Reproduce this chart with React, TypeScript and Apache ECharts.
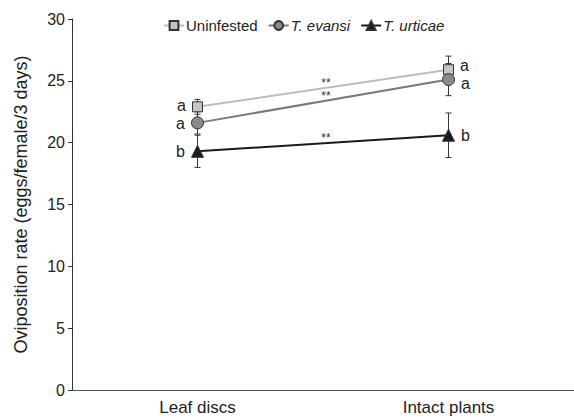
import React, { useEffect, useRef } from "react";
import * as echarts from "echarts";

const categories = ["Leaf discs", "Intact plants"];
const seriesNames = ["Uninfested", "T. evansi", "T. urticae"];
const uninfested = [22.9, 25.9];
const evansi = [21.6, 25.1];
const urticae = [19.3, 20.6];
const uninfestedErr = [0.6, 1.1];
const evansiErr = [0.9, 1.3];
const urticaeErr = [1.3, 1.8];
const uninfestedLetters = ["a", "a"];
const evansiLetters = ["a", "a"];
const urticaeLetters = ["b", "b"];
const signif = ["**", "**", "**"];
const yTicks = [0, 5, 10, 15, 20, 25, 30];

const FONT = "Liberation Sans, Arial, sans-serif";

export default function App() {
  const ref = useRef<HTMLDivElement>(null);
  useEffect(() => {
    if (!ref.current) return;
    const chart = echarts.init(ref.current, undefined, { renderer: "svg" });
    const values = [uninfested, evansi, urticae];
    const errs = [uninfestedErr, evansiErr, urticaeErr];
    const letters = [uninfestedLetters, evansiLetters, urticaeLetters];
    const lineColors = ["#bdbdbd", "#7a7a7a", "#1a1a1a"];
    const fillColors = ["#c4c4c4", "#8a8a8a", "#1a1a1a"];
    const symbols = ["rect", "circle", "triangle"];
    const sizes = [10, 12, 12];
    const leftOffsets = [[0, -1], [0, 1], [0, 0]];
    const rightOffsets = [[0, -4], [0, 4], [0, 0]];

    const lineSeries = values.map((vals, si) => ({
      type: "line",
      name: seriesNames[si],
      z: 4,
      symbol: symbols[si],
      symbolSize: sizes[si],
      lineStyle: { color: lineColors[si], width: 2 },
      itemStyle: { color: fillColors[si], borderColor: "#333", borderWidth: 1 },
      data: vals.map((v, i) => ({
        value: v,
        label: {
          show: true,
          position: i === 0 ? "left" : "right",
          distance: 6,
          offset: i === 0 ? leftOffsets[si] : rightOffsets[si],
          formatter: letters[si][i],
          fontSize: 16,
          lineHeight: 13,
          color: "#222",
          fontFamily: FONT,
        },
      })),
    }));

    const errData: number[][] = [];
    values.forEach((vals, si) =>
      vals.forEach((v, i) => errData.push([i, v - errs[si][i], v + errs[si][i]]))
    );

    const errSeries = {
      type: "custom",
      z: 2,
      silent: true,
      data: errData,
      renderItem: (params: any, api: any) => {
        const x = api.value(0);
        const lo = api.coord([x, api.value(1)]);
        const hi = api.coord([x, api.value(2)]);
        const cap = 3;
        const st = { stroke: "#333", lineWidth: 1 };
        return {
          type: "group",
          children: [
            { type: "line", shape: { x1: lo[0], y1: lo[1], x2: hi[0], y2: hi[1] }, style: st },
            { type: "line", shape: { x1: lo[0] - cap, y1: lo[1], x2: lo[0] + cap, y2: lo[1] }, style: st },
            { type: "line", shape: { x1: hi[0] - cap, y1: hi[1], x2: hi[0] + cap, y2: hi[1] }, style: st },
          ],
        };
      },
    };

    const sigSeries = {
      type: "custom",
      z: 5,
      silent: true,
      data: values.map((vals, si) => [vals[0], vals[1], si]),
      renderItem: (params: any, api: any) => {
        const a = api.coord([0, api.value(0)]);
        const b = api.coord([1, api.value(1)]);
        const si = api.value(2);
        return {
          type: "text",
          style: {
            x: (a[0] + b[0]) / 2 + 3,
            y: (a[1] + b[1]) / 2 - 1,
            text: signif[si],
            align: "center",
            verticalAlign: "bottom",
            fontSize: 12,
            lineHeight: 8,
            fontFamily: FONT,
            fill: "#333",
          },
        };
      },
    };

    chart.setOption({
      animation: false,
      textStyle: { fontFamily: FONT },
      grid: { left: 72, right: 0, top: 19, bottom: 28, containLabel: false },
      legend: {
        top: 13,
        left: 158,
        itemGap: 10,
        itemWidth: 20,
        itemHeight: 11,
        data: seriesNames,
        formatter: (n: string) => (n === "Uninfested" ? n : `{i|${n}}`),
        textStyle: {
          fontSize: 15,
          color: "#222",
          fontFamily: FONT,
          padding: [0, 0, 0, -3],
          rich: { i: { fontStyle: "italic", fontSize: 15, color: "#222", fontFamily: FONT } },
        },
      },
      xAxis: {
        type: "category",
        data: categories,
        boundaryGap: true,
        axisLine: { lineStyle: { color: "#555", width: 1 } },
        axisTick: { show: false },
        axisLabel: { fontSize: 17, color: "#222", margin: 9, fontFamily: FONT },
      },
      yAxis: {
        type: "value",
        min: yTicks[0],
        max: yTicks[yTicks.length - 1],
        interval: 5,
        name: "Oviposition rate (eggs/female/3 days)",
        nameLocation: "middle",
        nameGap: 42,
        nameTextStyle: { fontSize: 18, color: "#222", fontFamily: FONT },
        splitLine: { show: false },
        axisLine: { show: true, lineStyle: { color: "#333", width: 1 } },
        axisTick: { show: true, length: 4, lineStyle: { color: "#333" } },
        axisLabel: { fontSize: 16, color: "#222", margin: 7, fontFamily: FONT },
      },
      series: [errSeries, ...lineSeries, sigSeries],
    });
    return () => chart.dispose();
  }, []);
  return <div ref={ref} style={{ width: 574, height: 418, position: "absolute", left: 0, top: 0 }} />;
}
